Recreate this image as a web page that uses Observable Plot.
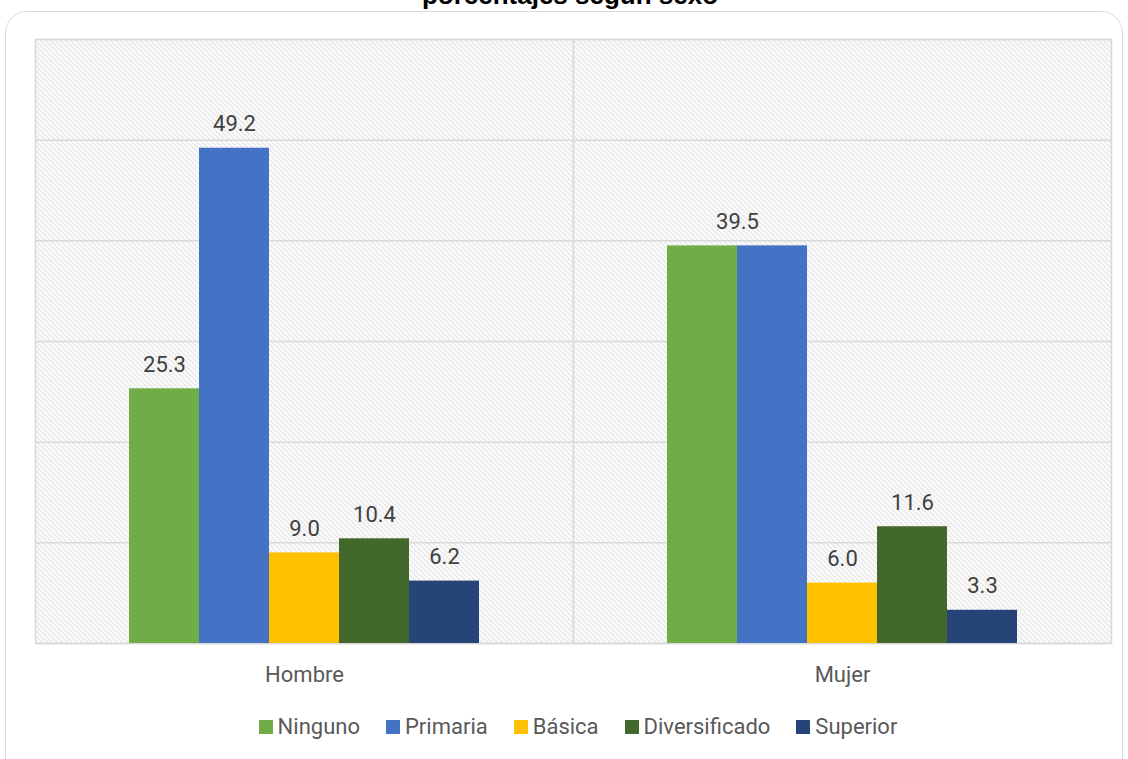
<!DOCTYPE html>
<html><head><meta charset="utf-8">
<script src="https://cdn.jsdelivr.net/npm/d3@7"></script>
<script src="https://cdn.jsdelivr.net/npm/@observablehq/plot@0.6"></script>
<style>
body{margin:0;background:#fff;}
#wrap{position:relative;width:1128px;height:759px;overflow:hidden;font-family:Roboto,sans-serif;}
#box{position:absolute;left:5px;top:11px;width:1118px;height:780px;border:1.5px solid #d9d9d9;border-radius:22px;box-sizing:border-box;background:#fff;}
#title{position:absolute;left:6px;width:1128px;top:-18px;text-align:center;font:bold 26px "Liberation Sans",Arial,sans-serif;line-height:26px;color:#000;}
#chart{position:absolute;left:0;top:0;}
#legend{position:absolute;left:14px;top:713px;width:1128px;display:flex;justify-content:center;gap:26px;font:22px Roboto,sans-serif;color:#595959;line-height:28px;}
#legend .it{display:flex;align-items:center;}
#legend .sw{width:14px;height:14px;margin-right:5px;display:inline-block;}
</style></head>
<body>
<div id="wrap">
  <div id="box"></div>
  <div id="title">porcentajes según sexo</div>
  <div id="chart"></div>
  <div id="legend"></div>
</div>
<script>
const sexos = ["Hombre", "Mujer"];
const niveles = ["Ninguno", "Primaria", "Básica", "Diversificado", "Superior"];
const colores = ["#70AD47", "#4472C4", "#FFC000", "#43682B", "#264478"];
const hombre = [25.3, 49.2, 9.0, 10.4, 6.2];
const mujer = [39.5, 39.5, 6.0, 11.6, 3.3];
const yTicks = [0, 10, 20, 30, 40, 50, 60];

const data = [];
niveles.forEach((n, i) => data.push({sexo: "Hombre", nivel: n, valor: hombre[i]}));
niveles.forEach((n, i) => data.push({sexo: "Mujer", nivel: n, valor: mujer[i]}));

// Mujer: Ninguno and Primaria share one centered label in the reference
const labelsMain = data.filter(d => !(d.sexo === "Mujer" && (d.nivel === "Ninguno" || d.nivel === "Primaria")));
const labelShared = data.filter(d => d.sexo === "Mujer" && d.nivel === "Ninguno");

const plot = Plot.plot({
  width: 1128,
  height: 700,
  marginLeft: 35,
  marginRight: 17,
  marginTop: 39,
  marginBottom: 57,
  style: {fontFamily: "Roboto, sans-serif", background: "transparent"},
  fx: {domain: sexos, padding: 0, axis: "bottom", label: null, tickSize: 0, tickPadding: 23, fontSize: 22},
  x: {domain: niveles, axis: null, paddingInner: 0, paddingOuter: 1.3},
  y: {domain: [0, 60], axis: null},
  color: {domain: niveles, range: colores},
  marks: [
    Plot.frame({fill: "url(#hatch)", stroke: "#d9d9d9", strokeWidth: 1.5}),
    Plot.gridY(yTicks, {stroke: "#d9d9d9", strokeOpacity: 1, strokeWidth: 1.5}),
    Plot.barY(data, {fx: "sexo", x: "nivel", y: "valor", fill: "nivel", insetLeft: 0, insetRight: 0}),
    Plot.text(labelsMain, {fx: "sexo", x: "nivel", y: "valor", text: d => d.valor.toFixed(1), dy: -24, fontSize: 22, fill: "#404040"}),
    Plot.text(labelShared, {fx: "sexo", x: "nivel", y: "valor", text: d => d.valor.toFixed(1), dy: -24, dx: 35, fontSize: 22, fill: "#404040"})
  ]
});

const svg = d3.select(plot);
const defs = svg.insert("defs", ":first-child");
const pat = defs.append("pattern").attr("id", "hatch").attr("patternUnits", "userSpaceOnUse").attr("width", 5).attr("height", 5);
pat.append("rect").attr("width", 5).attr("height", 5).attr("fill", "#ffffff");
pat.append("path").attr("d", "M0,0 L5,5 M-1,4 L1,6 M4,-1 L6,1").attr("stroke", "#dcdcdc").attr("stroke-width", 1.2);
svg.selectAll("g[aria-label='fx-axis tick label'] text, g[aria-label='fx-axis tick label']").attr("fill", "#595959").style("font-size", "22px");

document.getElementById("chart").appendChild(plot);

const legend = d3.select("#legend");
niveles.forEach((n, i) => {
  const it = legend.append("div").attr("class", "it");
  it.append("span").attr("class", "sw").style("background", colores[i]);
  it.append("span").text(n);
});
</script>
</body></html>
